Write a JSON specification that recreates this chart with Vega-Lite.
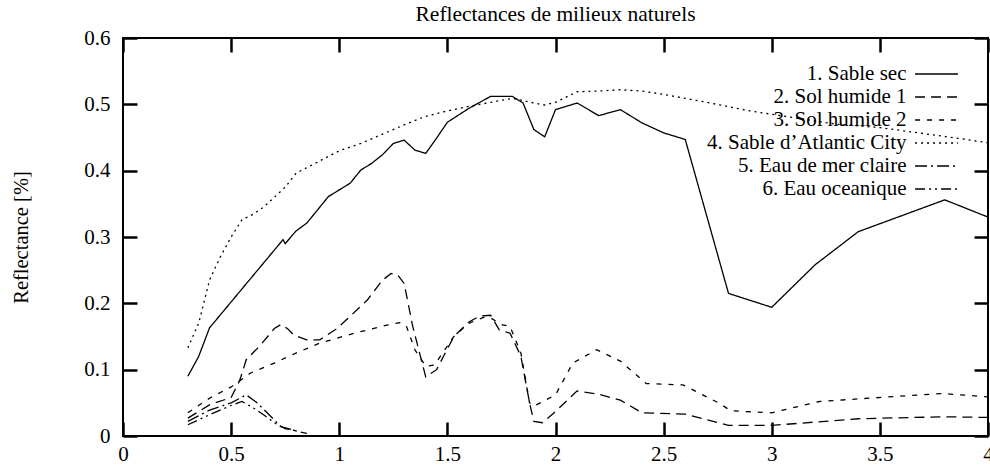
{
  "$schema": "https://vega.github.io/schema/vega-lite/v6.json",
  "width": 865,
  "height": 398,
  "autosize": {"type": "none"},
  "padding": {"left": 123, "top": 38, "right": 2, "bottom": 34},
  "title": {"text": "Reflectances de milieux naturels", "font": "Liberation Serif, Times New Roman, serif", "fontSize": 21.5, "fontWeight": "normal", "color": "black", "offset": 2},
  "config": {
    "view": {"stroke": "black", "strokeWidth": 2},
    "font": "Liberation Serif, Times New Roman, serif"
  },
  "data": {"values": [
    {"s": "1. Sable sec", "x": 0.30, "y": 0.090},
    {"s": "1. Sable sec", "x": 0.35, "y": 0.120},
    {"s": "1. Sable sec", "x": 0.40, "y": 0.163},
    {"s": "1. Sable sec", "x": 0.74, "y": 0.296},
    {"s": "1. Sable sec", "x": 0.75, "y": 0.290},
    {"s": "1. Sable sec", "x": 0.80, "y": 0.309},
    {"s": "1. Sable sec", "x": 0.85, "y": 0.321},
    {"s": "1. Sable sec", "x": 0.95, "y": 0.361},
    {"s": "1. Sable sec", "x": 1.05, "y": 0.381},
    {"s": "1. Sable sec", "x": 1.10, "y": 0.401},
    {"s": "1. Sable sec", "x": 1.15, "y": 0.411},
    {"s": "1. Sable sec", "x": 1.20, "y": 0.424},
    {"s": "1. Sable sec", "x": 1.25, "y": 0.441},
    {"s": "1. Sable sec", "x": 1.30, "y": 0.446},
    {"s": "1. Sable sec", "x": 1.35, "y": 0.431},
    {"s": "1. Sable sec", "x": 1.40, "y": 0.426},
    {"s": "1. Sable sec", "x": 1.45, "y": 0.449},
    {"s": "1. Sable sec", "x": 1.50, "y": 0.473},
    {"s": "1. Sable sec", "x": 1.60, "y": 0.494},
    {"s": "1. Sable sec", "x": 1.70, "y": 0.512},
    {"s": "1. Sable sec", "x": 1.80, "y": 0.512},
    {"s": "1. Sable sec", "x": 1.85, "y": 0.502},
    {"s": "1. Sable sec", "x": 1.90, "y": 0.462},
    {"s": "1. Sable sec", "x": 1.95, "y": 0.451},
    {"s": "1. Sable sec", "x": 2.00, "y": 0.492},
    {"s": "1. Sable sec", "x": 2.10, "y": 0.502},
    {"s": "1. Sable sec", "x": 2.20, "y": 0.483},
    {"s": "1. Sable sec", "x": 2.30, "y": 0.492},
    {"s": "1. Sable sec", "x": 2.40, "y": 0.472},
    {"s": "1. Sable sec", "x": 2.50, "y": 0.457},
    {"s": "1. Sable sec", "x": 2.60, "y": 0.447},
    {"s": "1. Sable sec", "x": 2.80, "y": 0.215},
    {"s": "1. Sable sec", "x": 3.00, "y": 0.194},
    {"s": "1. Sable sec", "x": 3.20, "y": 0.258},
    {"s": "1. Sable sec", "x": 3.40, "y": 0.308},
    {"s": "1. Sable sec", "x": 3.60, "y": 0.332},
    {"s": "1. Sable sec", "x": 3.80, "y": 0.356},
    {"s": "1. Sable sec", "x": 4.00, "y": 0.330},

    {"s": "2. Sol humide 1", "x": 0.30, "y": 0.027},
    {"s": "2. Sol humide 1", "x": 0.40, "y": 0.047},
    {"s": "2. Sol humide 1", "x": 0.50, "y": 0.058},
    {"s": "2. Sol humide 1", "x": 0.54, "y": 0.084},
    {"s": "2. Sol humide 1", "x": 0.57, "y": 0.115},
    {"s": "2. Sol humide 1", "x": 0.63, "y": 0.135},
    {"s": "2. Sol humide 1", "x": 0.70, "y": 0.162},
    {"s": "2. Sol humide 1", "x": 0.73, "y": 0.168},
    {"s": "2. Sol humide 1", "x": 0.76, "y": 0.162},
    {"s": "2. Sol humide 1", "x": 0.79, "y": 0.152},
    {"s": "2. Sol humide 1", "x": 0.85, "y": 0.145},
    {"s": "2. Sol humide 1", "x": 0.91, "y": 0.145},
    {"s": "2. Sol humide 1", "x": 0.99, "y": 0.162},
    {"s": "2. Sol humide 1", "x": 1.13, "y": 0.205},
    {"s": "2. Sol humide 1", "x": 1.20, "y": 0.235},
    {"s": "2. Sol humide 1", "x": 1.24, "y": 0.245},
    {"s": "2. Sol humide 1", "x": 1.27, "y": 0.243},
    {"s": "2. Sol humide 1", "x": 1.30, "y": 0.230},
    {"s": "2. Sol humide 1", "x": 1.34, "y": 0.165},
    {"s": "2. Sol humide 1", "x": 1.40, "y": 0.089},
    {"s": "2. Sol humide 1", "x": 1.45, "y": 0.100},
    {"s": "2. Sol humide 1", "x": 1.53, "y": 0.150},
    {"s": "2. Sol humide 1", "x": 1.60, "y": 0.172},
    {"s": "2. Sol humide 1", "x": 1.65, "y": 0.181},
    {"s": "2. Sol humide 1", "x": 1.70, "y": 0.182},
    {"s": "2. Sol humide 1", "x": 1.74, "y": 0.160},
    {"s": "2. Sol humide 1", "x": 1.79, "y": 0.155},
    {"s": "2. Sol humide 1", "x": 1.84, "y": 0.120},
    {"s": "2. Sol humide 1", "x": 1.88, "y": 0.050},
    {"s": "2. Sol humide 1", "x": 1.90, "y": 0.022},
    {"s": "2. Sol humide 1", "x": 1.94, "y": 0.020},
    {"s": "2. Sol humide 1", "x": 2.00, "y": 0.037},
    {"s": "2. Sol humide 1", "x": 2.10, "y": 0.068},
    {"s": "2. Sol humide 1", "x": 2.20, "y": 0.063},
    {"s": "2. Sol humide 1", "x": 2.30, "y": 0.054},
    {"s": "2. Sol humide 1", "x": 2.40, "y": 0.035},
    {"s": "2. Sol humide 1", "x": 2.60, "y": 0.033},
    {"s": "2. Sol humide 1", "x": 2.80, "y": 0.016},
    {"s": "2. Sol humide 1", "x": 3.00, "y": 0.016},
    {"s": "2. Sol humide 1", "x": 3.40, "y": 0.026},
    {"s": "2. Sol humide 1", "x": 3.80, "y": 0.029},
    {"s": "2. Sol humide 1", "x": 4.00, "y": 0.028},

    {"s": "3. Sol humide 2", "x": 0.30, "y": 0.035},
    {"s": "3. Sol humide 2", "x": 0.40, "y": 0.057},
    {"s": "3. Sol humide 2", "x": 0.50, "y": 0.074},
    {"s": "3. Sol humide 2", "x": 0.59, "y": 0.095},
    {"s": "3. Sol humide 2", "x": 0.70, "y": 0.110},
    {"s": "3. Sol humide 2", "x": 0.80, "y": 0.125},
    {"s": "3. Sol humide 2", "x": 0.91, "y": 0.140},
    {"s": "3. Sol humide 2", "x": 1.07, "y": 0.155},
    {"s": "3. Sol humide 2", "x": 1.22, "y": 0.167},
    {"s": "3. Sol humide 2", "x": 1.28, "y": 0.171},
    {"s": "3. Sol humide 2", "x": 1.31, "y": 0.166},
    {"s": "3. Sol humide 2", "x": 1.35, "y": 0.130},
    {"s": "3. Sol humide 2", "x": 1.40, "y": 0.105},
    {"s": "3. Sol humide 2", "x": 1.44, "y": 0.107},
    {"s": "3. Sol humide 2", "x": 1.53, "y": 0.150},
    {"s": "3. Sol humide 2", "x": 1.60, "y": 0.170},
    {"s": "3. Sol humide 2", "x": 1.67, "y": 0.179},
    {"s": "3. Sol humide 2", "x": 1.70, "y": 0.178},
    {"s": "3. Sol humide 2", "x": 1.75, "y": 0.168},
    {"s": "3. Sol humide 2", "x": 1.79, "y": 0.165},
    {"s": "3. Sol humide 2", "x": 1.84, "y": 0.125},
    {"s": "3. Sol humide 2", "x": 1.88, "y": 0.050},
    {"s": "3. Sol humide 2", "x": 1.90, "y": 0.045},
    {"s": "3. Sol humide 2", "x": 2.00, "y": 0.062},
    {"s": "3. Sol humide 2", "x": 2.08, "y": 0.110},
    {"s": "3. Sol humide 2", "x": 2.19, "y": 0.130},
    {"s": "3. Sol humide 2", "x": 2.30, "y": 0.113},
    {"s": "3. Sol humide 2", "x": 2.42, "y": 0.079},
    {"s": "3. Sol humide 2", "x": 2.59, "y": 0.077},
    {"s": "3. Sol humide 2", "x": 2.76, "y": 0.049},
    {"s": "3. Sol humide 2", "x": 2.81, "y": 0.038},
    {"s": "3. Sol humide 2", "x": 3.00, "y": 0.035},
    {"s": "3. Sol humide 2", "x": 3.22, "y": 0.052},
    {"s": "3. Sol humide 2", "x": 3.45, "y": 0.057},
    {"s": "3. Sol humide 2", "x": 3.79, "y": 0.064},
    {"s": "3. Sol humide 2", "x": 4.00, "y": 0.059},

    {"s": "4. Sable d’Atlantic City", "x": 0.30, "y": 0.133},
    {"s": "4. Sable d’Atlantic City", "x": 0.35, "y": 0.170},
    {"s": "4. Sable d’Atlantic City", "x": 0.40, "y": 0.235},
    {"s": "4. Sable d’Atlantic City", "x": 0.45, "y": 0.270},
    {"s": "4. Sable d’Atlantic City", "x": 0.50, "y": 0.300},
    {"s": "4. Sable d’Atlantic City", "x": 0.55, "y": 0.326},
    {"s": "4. Sable d’Atlantic City", "x": 0.60, "y": 0.334},
    {"s": "4. Sable d’Atlantic City", "x": 0.65, "y": 0.345},
    {"s": "4. Sable d’Atlantic City", "x": 0.70, "y": 0.360},
    {"s": "4. Sable d’Atlantic City", "x": 0.75, "y": 0.375},
    {"s": "4. Sable d’Atlantic City", "x": 0.80, "y": 0.396},
    {"s": "4. Sable d’Atlantic City", "x": 0.90, "y": 0.413},
    {"s": "4. Sable d’Atlantic City", "x": 1.00, "y": 0.430},
    {"s": "4. Sable d’Atlantic City", "x": 1.10, "y": 0.441},
    {"s": "4. Sable d’Atlantic City", "x": 1.20, "y": 0.455},
    {"s": "4. Sable d’Atlantic City", "x": 1.30, "y": 0.469},
    {"s": "4. Sable d’Atlantic City", "x": 1.40, "y": 0.482},
    {"s": "4. Sable d’Atlantic City", "x": 1.50, "y": 0.490},
    {"s": "4. Sable d’Atlantic City", "x": 1.60, "y": 0.497},
    {"s": "4. Sable d’Atlantic City", "x": 1.70, "y": 0.503},
    {"s": "4. Sable d’Atlantic City", "x": 1.80, "y": 0.509},
    {"s": "4. Sable d’Atlantic City", "x": 1.90, "y": 0.502},
    {"s": "4. Sable d’Atlantic City", "x": 1.95, "y": 0.499},
    {"s": "4. Sable d’Atlantic City", "x": 2.00, "y": 0.503},
    {"s": "4. Sable d’Atlantic City", "x": 2.10, "y": 0.519},
    {"s": "4. Sable d’Atlantic City", "x": 2.20, "y": 0.520},
    {"s": "4. Sable d’Atlantic City", "x": 2.30, "y": 0.522},
    {"s": "4. Sable d’Atlantic City", "x": 2.40, "y": 0.520},
    {"s": "4. Sable d’Atlantic City", "x": 2.50, "y": 0.515},
    {"s": "4. Sable d’Atlantic City", "x": 2.70, "y": 0.503},
    {"s": "4. Sable d’Atlantic City", "x": 2.90, "y": 0.490},
    {"s": "4. Sable d’Atlantic City", "x": 3.10, "y": 0.480},
    {"s": "4. Sable d’Atlantic City", "x": 3.30, "y": 0.470},
    {"s": "4. Sable d’Atlantic City", "x": 3.50, "y": 0.465},
    {"s": "4. Sable d’Atlantic City", "x": 3.70, "y": 0.456},
    {"s": "4. Sable d’Atlantic City", "x": 3.90, "y": 0.447},
    {"s": "4. Sable d’Atlantic City", "x": 4.00, "y": 0.442},

    {"s": "5. Eau de mer claire", "x": 0.30, "y": 0.022},
    {"s": "5. Eau de mer claire", "x": 0.40, "y": 0.039},
    {"s": "5. Eau de mer claire", "x": 0.50, "y": 0.050},
    {"s": "5. Eau de mer claire", "x": 0.57, "y": 0.062},
    {"s": "5. Eau de mer claire", "x": 0.62, "y": 0.050},
    {"s": "5. Eau de mer claire", "x": 0.67, "y": 0.034},
    {"s": "5. Eau de mer claire", "x": 0.73, "y": 0.014},
    {"s": "5. Eau de mer claire", "x": 0.82, "y": 0.006},
    {"s": "5. Eau de mer claire", "x": 0.85, "y": 0.004},

    {"s": "6. Eau oceanique", "x": 0.30, "y": 0.017},
    {"s": "6. Eau oceanique", "x": 0.40, "y": 0.032},
    {"s": "6. Eau oceanique", "x": 0.50, "y": 0.046},
    {"s": "6. Eau oceanique", "x": 0.55, "y": 0.052},
    {"s": "6. Eau oceanique", "x": 0.60, "y": 0.043},
    {"s": "6. Eau oceanique", "x": 0.65, "y": 0.032},
    {"s": "6. Eau oceanique", "x": 0.70, "y": 0.020},
    {"s": "6. Eau oceanique", "x": 0.75, "y": 0.011},
    {"s": "6. Eau oceanique", "x": 0.80, "y": 0.008}
  ]},
  "layer": [
    {
      "mark": {"type": "line", "color": "black", "strokeWidth": 1.3},
      "encoding": {
        "x": {"field": "x", "type": "quantitative",
              "scale": {"domain": [0, 4], "nice": false, "zero": false},
              "axis": {"orient": "bottom", "title": null, "values": [0, 0.5, 1, 1.5, 2, 2.5, 3, 3.5, 4], "format": "~g",
                       "domain": false, "grid": false, "tickSize": -14, "tickWidth": 2.5, "tickColor": "black",
                       "labelPadding": 21, "labelFont": "Liberation Serif, Times New Roman, serif", "labelFontSize": 21, "labelColor": "black",
                       "labelFlush": false, "labelOverlap": false}},
        "y": {"field": "y", "type": "quantitative",
              "scale": {"domain": [0, 0.6], "nice": false},
              "axis": {"orient": "left", "title": "Reflectance [%]", "values": [0, 0.1, 0.2, 0.3, 0.4, 0.5, 0.6], "format": "~g",
                       "domain": false, "grid": false, "tickSize": -14, "tickWidth": 2.5, "tickColor": "black",
                       "labelPadding": 27, "labelFont": "Liberation Serif, Times New Roman, serif", "labelFontSize": 21, "labelColor": "black",
                       "labelFlush": false, "labelOverlap": false,
                       "titleFont": "Liberation Serif, Times New Roman, serif", "titleFontSize": 20.5, "titleFontWeight": "normal", "titleColor": "black",
                       "titlePadding": 52}},
        "strokeDash": {"field": "s", "type": "nominal",
          "scale": {"domain": ["1. Sable sec", "2. Sol humide 1", "3. Sol humide 2", "4. Sable d’Atlantic City", "5. Eau de mer claire", "6. Eau oceanique"],
                    "range": [[1, 0], [10, 6], [5, 7], [2, 4], [12, 4, 2, 4], [10, 4, 2, 4, 2, 4]]},
          "legend": {"orient": "none", "legendX": 803, "legendY": 25.5, "title": null,
                     "symbolType": "M-4,0H4", "symbolSize": 115, "symbolStrokeWidth": 1.3, "symbolStrokeColor": "black", "symbolFillColor": "transparent",
                     "labelFont": "Liberation Serif, Times New Roman, serif", "labelFontSize": 21, "labelColor": "black", "labelAlign": "right",
                     "labelOffset": -40.5, "labelLimit": 400, "rowPadding": 1.0, "padding": 0}}
      }
    },
    {
      "mark": {"type": "point", "opacity": 0},
      "encoding": {
        "x": {"field": "x", "type": "quantitative",
              "axis": {"orient": "top", "title": null, "values": [0, 0.5, 1, 1.5, 2, 2.5, 3, 3.5, 4],
                       "domain": false, "grid": false, "labels": false, "tickSize": -14, "tickWidth": 2.5, "tickColor": "black"}},
        "y": {"field": "y", "type": "quantitative",
              "axis": {"orient": "right", "title": null, "values": [0, 0.1, 0.2, 0.3, 0.4, 0.5, 0.6],
                       "domain": false, "grid": false, "labels": false, "tickSize": -14, "tickWidth": 2.5, "tickColor": "black"}}
      }
    }
  ],
  "resolve": {"axis": {"x": "independent", "y": "independent"}}
}
